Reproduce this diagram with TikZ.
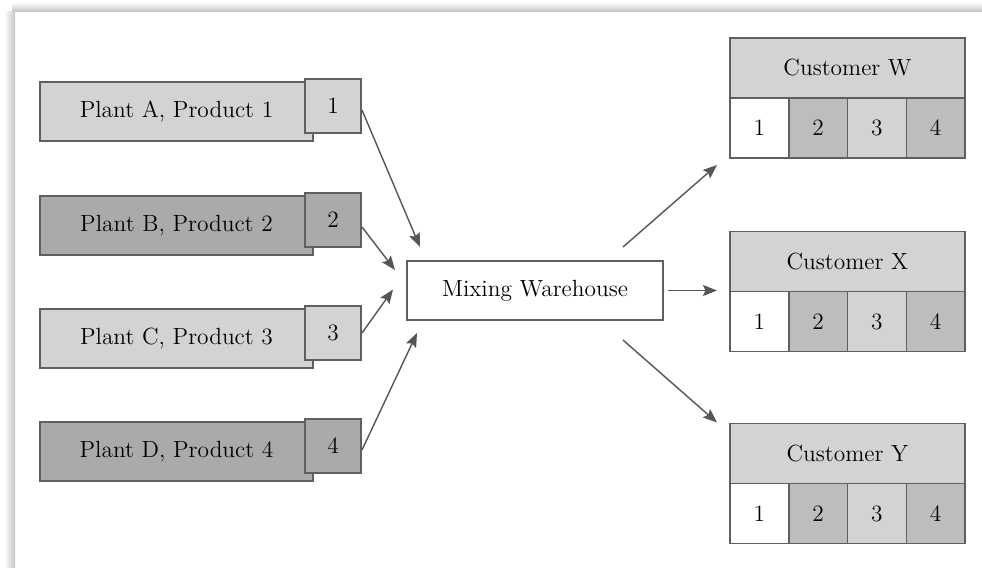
\documentclass[tikz,border=0pt]{standalone}
\usetikzlibrary{arrows.meta,calc}

\definecolor{boxline}{HTML}{5F5F5F}
\definecolor{flowgr}{HTML}{555555}
\definecolor{lightgr}{HTML}{D3D3D3}
\definecolor{darkgr}{HTML}{AAAAAA}
\definecolor{cellgr}{HTML}{BDBDBD}

\tikzset{
  boxfont/.style={font=\fontsize{11.7}{14}\selectfont},
  plantbox/.style={draw=boxline, line width=0.75pt, outer sep=0pt, minimum width=136.5pt, minimum height=29.5pt, inner sep=0pt, boxfont},
  numbox/.style={draw=boxline, line width=0.75pt, outer sep=0pt, minimum width=28pt, minimum height=27pt, inner sep=0pt, boxfont},
  mixbox/.style={draw=boxline, line width=0.75pt, outer sep=0pt, fill=white, minimum width=128pt, minimum height=29.5pt, inner sep=0pt, boxfont},
  custhead/.style={draw=boxline, line width=0.75pt, outer sep=0pt, fill=lightgr, minimum width=117.5pt, minimum height=30pt, inner sep=0pt, boxfont},
  cellbox/.style={draw=boxline, line width=0.75pt, outer sep=0pt, minimum width=29.375pt, minimum height=30pt, inner sep=0pt, anchor=north west, boxfont},
  flow/.style={draw=flowgr, line width=0.7pt, -{Stealth[length=7pt, width=5.5pt, inset=1.2pt]}}
}

\begin{document}
\begin{tikzpicture}[x=0.5pt, y=-0.5pt]
\useasboundingbox (0,0) rectangle (982,568);

% page shadow
\shade[top color=white, bottom color=black!22] (12,2) rectangle (982,11);
\shade[left color=white, right color=black!22] (4,11) rectangle (15,568);

\def\xp{176.5};
\def\xn{333};
\def\xm{535};
\def\xc{847.5};

\def\ya{111.5};
\def\yb{225.5};
\def\yc{338.5};
\def\yd{451.5};
\def\ymix{290.5}

\def\yw{68};
\def\yx{261.5};
\def\yy{453.5};

% plants
\node[plantbox, fill=lightgr] (pa) at (\xp, \ya) {Plant A, Product 1};
\node[numbox, fill=lightgr] (na) at (\xn, \ya-5.5) {1};

\node[plantbox, fill=darkgr] (pb) at (\xp, \yb) {Plant B, Product 2};
\node[numbox, fill=darkgr] (nb) at (\xn, \yb-5.5) {2};

\node[plantbox, fill=lightgr] (pc) at (\xp, \yc) {Plant C, Product 3};
\node[numbox, fill=lightgr] (nc) at (\xn, \yc-5.5) {3};

\node[plantbox, fill=darkgr] (pd) at (\xp, \yd) {Plant D, Product 4};
\node[numbox, fill=darkgr] (nd) at (\xn, \yd-5.5) {4};

% warehouse
\node[mixbox] (mix) at (\xm, \ymix) {Mixing Warehouse};

% customers
\node[custhead] (cw) at (\xc, \yw) {Customer W};
\node[cellbox, fill=white] (cw1) at (cw.south west) {1};
\node[cellbox, fill=cellgr] (cw2) at (cw1.north east) {2};
\node[cellbox, fill=lightgr] (cw3) at (cw2.north east) {3};
\node[cellbox, fill=cellgr] (cw4) at (cw3.north east) {4};

\node[custhead] (cx) at (\xc, \yx) {Customer X};
\node[cellbox, fill=white] (cx1) at (cx.south west) {1};
\node[cellbox, fill=cellgr] (cx2) at (cx1.north east) {2};
\node[cellbox, fill=lightgr] (cx3) at (cx2.north east) {3};
\node[cellbox, fill=cellgr] (cx4) at (cx3.north east) {4};

\node[custhead] (cy) at (\xc, \yy) {Customer Y};
\node[cellbox, fill=white] (cy1) at (cy.south west) {1};
\node[cellbox, fill=cellgr] (cy2) at (cy1.north east) {2};
\node[cellbox, fill=lightgr] (cy3) at (cy2.north east) {3};
\node[cellbox, fill=cellgr] (cy4) at (cy3.north east) {4};

% arrow ends
\coordinate (ina) at ($(mix.north west)+(13,-14)$);
\coordinate (inb) at ($(mix.north west)+(-12,9)$);
\coordinate (inc) at ($(mix.west)+(-14,-1)$);
\coordinate (ind) at ($(mix.south west)+(10,13)$);

\coordinate (outw) at ($(mix.north east)+(-40,-14)$);
\coordinate (outx) at ($(mix.east)+(5,0)$);
\coordinate (outy) at ($(mix.south east)+(-40,20)$);

\coordinate (tow) at ($(cw1.south west)+(-13,7)$);
\coordinate (tox) at ($(outx -| cx.west)+(-13,0)$);
\coordinate (toy) at ($(cy.north west)+(-13,-1)$);

\draw[flow] ($(na.east)+(1,4)$) -- (ina);
\draw[flow] ($(nb.east)+(1,7)$) -- (inb);
\draw[flow] ($(nc.east)+(1,0)$) -- (inc);
\draw[flow] ($(nd.east)+(1,4)$) -- (ind);

\draw[flow] (outw) -- (tow);
\draw[flow] (outx) -- (tox);
\draw[flow] (outy) -- (toy);

\end{tikzpicture}
\end{document}
